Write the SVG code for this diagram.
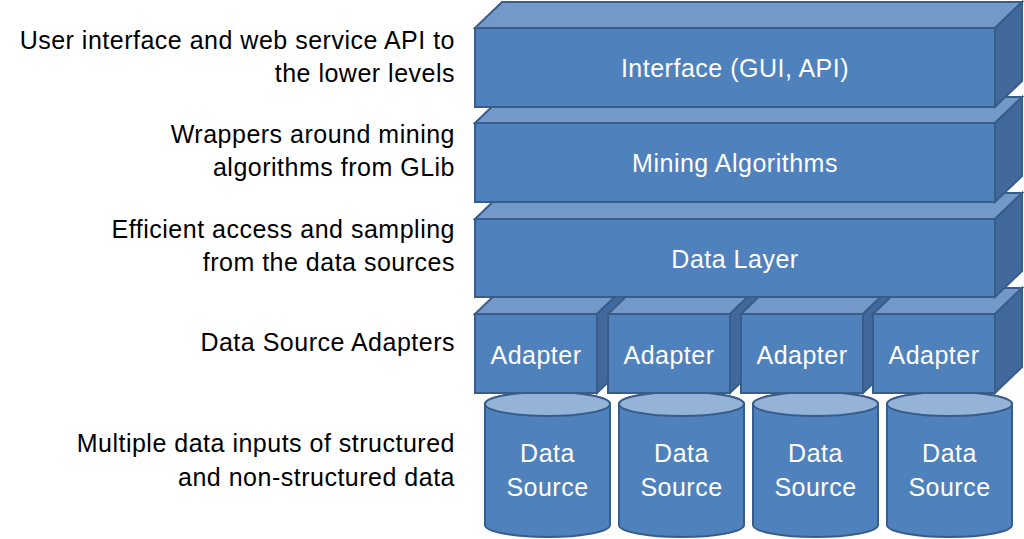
<svg xmlns="http://www.w3.org/2000/svg" width="1024" height="539" viewBox="0 0 1024 539">
<style>
.front{fill:#4F81BD;stroke:#385D8A;stroke-width:2;stroke-linejoin:miter}
.top{fill:#7399C9;stroke:#385D8A;stroke-width:2;stroke-linejoin:miter}
.side{fill:#41699B;stroke:#385D8A;stroke-width:2;stroke-linejoin:miter}
.body{fill:#4F81BD;stroke:#385D8A;stroke-width:2}
.cap{fill:#95B3D7;stroke:#385D8A;stroke-width:2}
.lbl{font-family:"Liberation Sans",Arial,sans-serif;font-size:25px;letter-spacing:0.5px;fill:#FFFFFF;text-anchor:middle}
.note{font-family:"Liberation Sans",Arial,sans-serif;font-size:25px;letter-spacing:0.5px;fill:#000000;text-anchor:end}
</style>
<rect width="1024" height="539" fill="#FFFFFF"/>
<g id="notes">
<text class="note" x="455" y="49">User interface and web service API to</text>
<text class="note" x="455" y="82">the lower levels</text>
<text class="note" x="455" y="143">Wrappers around mining</text>
<text class="note" x="455" y="176">algorithms from GLib</text>
<text class="note" x="455" y="238">Efficient access and sampling</text>
<text class="note" x="455" y="271">from the data sources</text>
<text class="note" x="455" y="351">Data Source Adapters</text>
<text class="note" x="455" y="452">Multiple data inputs of structured</text>
<text class="note" x="455" y="486">and non-structured data</text>
</g>
<g id="source1">
<path class="body" d="M485,404 L485,525 A62.5,12 0 0 0 610,525 L610,404 A62.5,12 0 0 0 485,404 Z"/>
<ellipse class="cap" cx="547.5" cy="404" rx="62.5" ry="12"/>
<text class="lbl" x="547.5" y="462">Data</text>
<text class="lbl" x="547.5" y="496">Source</text>
</g>
<g id="source2">
<path class="body" d="M619,404 L619,525 A62.5,12 0 0 0 744,525 L744,404 A62.5,12 0 0 0 619,404 Z"/>
<ellipse class="cap" cx="681.5" cy="404" rx="62.5" ry="12"/>
<text class="lbl" x="681.5" y="462">Data</text>
<text class="lbl" x="681.5" y="496">Source</text>
</g>
<g id="source3">
<path class="body" d="M753,404 L753,525 A62.5,12 0 0 0 878,525 L878,404 A62.5,12 0 0 0 753,404 Z"/>
<ellipse class="cap" cx="815.5" cy="404" rx="62.5" ry="12"/>
<text class="lbl" x="815.5" y="462">Data</text>
<text class="lbl" x="815.5" y="496">Source</text>
</g>
<g id="source4">
<path class="body" d="M887,404 L887,525 A62.5,12 0 0 0 1012,525 L1012,404 A62.5,12 0 0 0 887,404 Z"/>
<ellipse class="cap" cx="949.5" cy="404" rx="62.5" ry="12"/>
<text class="lbl" x="949.5" y="462">Data</text>
<text class="lbl" x="949.5" y="496">Source</text>
</g>
<g id="adapter1">
<polygon class="top" points="475,314 502,288 624,288 597,314"/>
<polygon class="side" points="597,314 624,288 624,367 597,393"/>
<rect class="front" x="475" y="314" width="122" height="79"/>
<text class="lbl" x="536" y="364">Adapter</text>
</g>
<g id="adapter2">
<polygon class="top" points="608,314 635,288 757,288 730,314"/>
<polygon class="side" points="730,314 757,288 757,367 730,393"/>
<rect class="front" x="608" y="314" width="122" height="79"/>
<text class="lbl" x="669" y="364">Adapter</text>
</g>
<g id="adapter3">
<polygon class="top" points="741,314 768,288 890,288 863,314"/>
<polygon class="side" points="863,314 890,288 890,367 863,393"/>
<rect class="front" x="741" y="314" width="122" height="79"/>
<text class="lbl" x="802" y="364">Adapter</text>
</g>
<g id="adapter4">
<polygon class="top" points="873,314 900,288 1022,288 995,314"/>
<polygon class="side" points="995,314 1022,288 1022,367 995,393"/>
<rect class="front" x="873" y="314" width="122" height="79"/>
<text class="lbl" x="934" y="364">Adapter</text>
</g>
<g id="data-layer">
<polygon class="top" points="475,219 502,193 1022,193 995,219"/>
<polygon class="side" points="995,219 1022,193 1022,271 995,297"/>
<rect class="front" x="475" y="219" width="520" height="78"/>
<text class="lbl" x="735" y="268">Data Layer</text>
</g>
<g id="mining">
<polygon class="top" points="475,123 502,97 1022,97 995,123"/>
<polygon class="side" points="995,123 1022,97 1022,176 995,202"/>
<rect class="front" x="475" y="123" width="520" height="79"/>
<text class="lbl" x="735" y="172">Mining Algorithms</text>
</g>
<g id="interface">
<polygon class="top" points="475,28 502,2 1022,2 995,28"/>
<polygon class="side" points="995,28 1022,2 1022,81 995,107"/>
<rect class="front" x="475" y="28" width="520" height="79"/>
<text class="lbl" x="735" y="77">Interface (GUI, API)</text>
</g>
<g id="connectors"/>
</svg>
